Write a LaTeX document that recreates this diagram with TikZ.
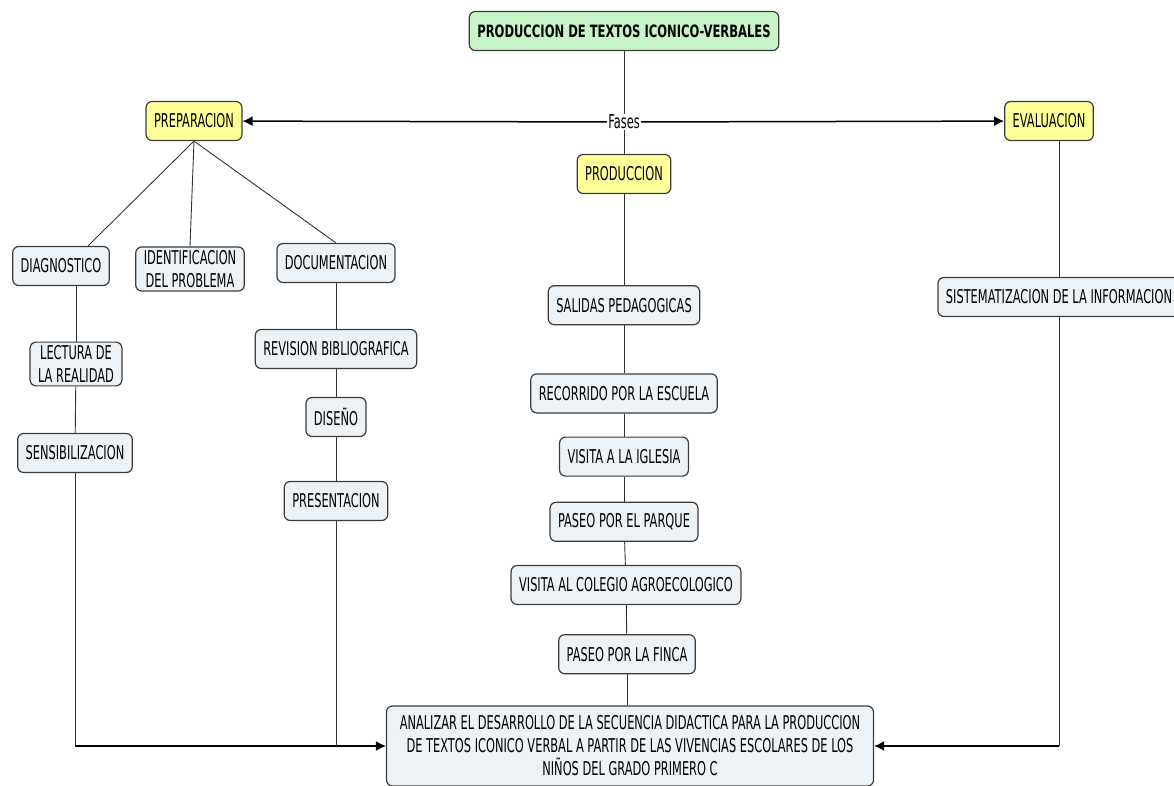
\documentclass[tikz,border=0pt]{standalone}
\usepackage{fontspec}
\setmainfont{DejaVu Sans}[FakeStretch=0.6]
\newfontfamily\titlefont{DejaVu Sans}[FakeStretch=0.68]
\usetikzlibrary{arrows.meta, positioning, calc}
\definecolor{titlegreen}{RGB}{200,245,200}
\definecolor{phaseyellow}{RGB}{255,255,153}
\definecolor{boxgray}{RGB}{236,242,246}
\definecolor{borderdark}{RGB}{60,60,60}

\begin{document}
\begin{tikzpicture}[
        x=1pt, y=-1pt,
        box/.style={rectangle, draw=borderdark, line width=1.2pt, fill=boxgray, rounded corners=6pt, minimum height=39pt, inner xsep=8pt, align=center, font=\fontsize{19}{23}\selectfont},
        phase/.style={box, fill=phaseyellow},
        link/.style={draw=black!80, line width=0.9pt},
        arrow/.style={-{Latex[length=10pt,width=10pt]}, line width=1.5pt, black}
    ]
        \clip (0,0) rectangle (1174,786);

        \node[box, fill=titlegreen, font=\titlefont\bfseries\fontsize{17}{20}\selectfont] (title) at (624,31) {PRODUCCION DE TEXTOS ICONICO-VERBALES};
        \node[fill=white, inner sep=1pt, font=\fontsize{19}{23}\selectfont] (fases) at (624,122) {Fases};

        \node[phase] (prep) at (194,121) {PREPARACION};
        \node[phase] (eval) at (1049,121) {EVALUACION};
        \node[phase] (prod) at (624,174) {PRODUCCION};

        % preparacion
        \node[box] (diag) at (61,266) {DIAGNOSTICO};
        \node[box] (ident) at (190,269) {IDENTIFICACION\\DEL PROBLEMA};
        \node[box] (doc) at (336,263) {DOCUMENTACION};
        \node[box] (lect) at (76,364) {LECTURA DE\\LA REALIDAD};
        \node[box] (sensib) at (75,453) {SENSIBILIZACION};
        \node[box] (rev) at (336,349) {REVISION BIBLIOGRAFICA};
        \node[box] (dis) at (336,417) {DISEÑO};
        \node[box] (pres) at (336,501) {PRESENTACION};

        % produccion
        \node[box, below=91pt of prod] (salidas) {SALIDAS PEDAGOGICAS};
        \node[box, below=48pt of salidas] (recorrido) {RECORRIDO POR LA ESCUELA};
        \node[box, below=23pt of recorrido] (iglesia) {VISITA A LA IGLESIA};
        \node[box, below=25pt of iglesia] (parque) {PASEO POR EL PARQUE};
        \node[box, below=23pt of parque, xshift=2pt] (colegio) {VISITA AL COLEGIO AGROECOLOGICO};
        \node[box, below=29pt of colegio, xshift=1pt] (finca) {PASEO POR LA FINCA};
        \node[box, minimum height=80pt, minimum width=487pt] (anal) at (630,746) {ANALIZAR EL DESARROLLO DE LA SECUENCIA DIDACTICA PARA LA PRODUCCION\\DE TEXTOS ICONICO VERBAL A PARTIR DE LAS VIVENCIAS ESCOLARES DE LOS\\NIÑOS DEL GRADO PRIMERO C};

        % evaluacion
        \node[box] (sist) at (1059,297) {SISTEMATIZACION DE LA INFORMACION};

        \coordinate (leftcorner) at (sensib |- anal.west);
        \coordinate (rightcorner) at (sist |- anal.east);

        \draw[link] (title) -- (fases);
        \draw[link] (fases) -- (prod);
        \draw[arrow] (fases) -- (prep);
        \draw[arrow] (fases) -- (eval);

        \draw[link] (prep.south) -- ([xshift=27pt]diag.north);
        \draw[link] (prep.south) -- (ident.north);
        \draw[link] (prep.south) -- (doc.north);
        \draw[link] (diag.south -| lect) -- (lect);
        \draw[link] (lect) -- (sensib);
        \draw[link] (sensib) -- (leftcorner);
        \draw[arrow] (leftcorner) -- (anal.west);
        \draw[link] (doc) -- (rev);
        \draw[link] (rev) -- (dis);
        \draw[link] (dis) -- (pres);
        \draw[link] (pres) -- (pres |- anal.west);

        \draw[link] (prod) -- (salidas);
        \draw[link] (salidas) -- (recorrido);
        \draw[link] (recorrido) -- (iglesia);
        \draw[link] (iglesia) -- (parque);
        \draw[link] (parque) -- (colegio);
        \draw[link] (colegio) -- (finca);
        \draw[link] (finca) -- (finca |- anal.north);

        \draw[link] (eval.south -| sist) -- (sist);
        \draw[link] (sist) -- (rightcorner);
        \draw[arrow] (rightcorner) -- (anal.east);
    \end{tikzpicture}
\end{document}
